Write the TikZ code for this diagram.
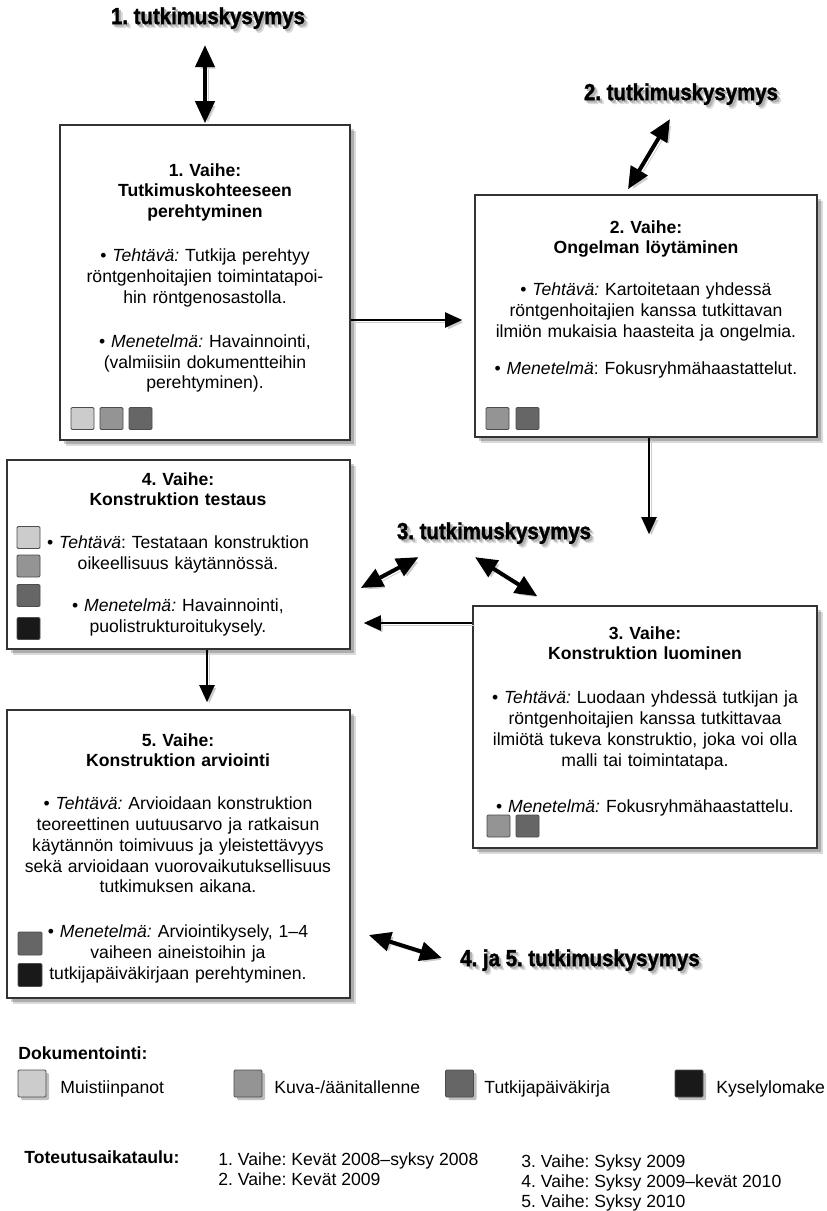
\documentclass[tikz,border=0pt]{standalone}
\usepackage{fontspec}
\setmainfont{Liberation Sans}
\newfontfamily\qfont{Liberation Sans}[FakeStretch=0.88, BoldFeatures={FakeBold=1.5}]
\usetikzlibrary{arrows.meta,shadows}
\frenchspacing

\definecolor{docA}{gray}{0.80}
\definecolor{docB}{gray}{0.58}
\definecolor{docC}{gray}{0.40}
\definecolor{docD}{gray}{0.10}

% question label with a soft offset shadow
\newcommand{\qlabel}[1]{%
  \makebox[0pt][l]{\hspace{1.9pt}\raisebox{-1.9pt}{\color{black!14}#1}}%
  \makebox[0pt][l]{\hspace{1.1pt}\raisebox{-1.1pt}{\color{black!30}#1}}#1}

\begin{document}
\begin{tikzpicture}[x=0.5pt, y=-0.5pt,
    phase/.style={draw=black!80, line width=0.8pt, fill=white, inner sep=0pt,
        drop shadow={shadow xshift=3pt, shadow yshift=-3pt, opacity=0.15, fill=black},
        drop shadow={shadow xshift=1.8pt, shadow yshift=-1.8pt, opacity=0.2, fill=black}},
    phasetext/.style={anchor=north, inner sep=0pt, align=center, text width=166pt,
        font=\fontsize{8.8}{10.4}\selectfont},
    question/.style={inner sep=1pt, font=\qfont\bfseries\fontsize{11.6}{13}\selectfont},
    docsq/.style={draw=black!70, line width=0.4pt, minimum width=11.5pt, minimum height=11pt,
        inner sep=0pt, rounded corners=0.6pt},
    legsq/.style={docsq, minimum width=14pt, minimum height=13.5pt,
        drop shadow={shadow xshift=1.5pt, shadow yshift=-1.5pt, opacity=0.25, fill=black}},
    plain/.style={inner sep=0pt, font=\fontsize{8.8}{10.2}\selectfont},
    flow/.style={-{Triangle[width=7.5pt,length=8.5pt]}, line width=1pt,
        preaction={draw=black!20, transform canvas={shift={(1.2pt,-1.2pt)}}}},
    link/.style={{Triangle[width=9.5pt,length=11pt]}-{Triangle[width=9.5pt,length=11pt]}, line width=2pt,
        preaction={draw=black!20, transform canvas={shift={(1.5pt,-1.5pt)}}}}]

    % Canvas in pixel units, y grows downwards
    \path[use as bounding box, fill=white] (0,0) rectangle (826,1211);

    % Phase boxes
    \node[phase, minimum width=145pt, minimum height=157.5pt] (v1) at (205,282.5) {};
    \node[phase, minimum width=171pt, minimum height=121pt] (v2) at (646,316) {};
    \node[phase, minimum width=172pt, minimum height=121pt] (v3) at (645,727) {};
    \node[phase, minimum width=171.5pt, minimum height=94.5pt] (v4) at (178.5,554.5) {};
    \node[phase, minimum width=171.5pt, minimum height=144pt] (v5) at (178.5,854) {};

    % Box texts
    \node[phasetext] (t1) at (205,163) {\textbf{1. Vaihe:}\\ \textbf{Tutkimuskohteeseen}\\ \textbf{perehtyminen}\\[11.6pt]
        • \textit{Tehtävä:} Tutkija perehtyy\\ röntgenhoitajien toimintatapoi-\\ hin röntgenosastolla.\\[11.6pt]
        • \textit{Menetelmä:} Havainnointi,\\ (valmiisiin dokumentteihin\\ perehtyminen).};
    \node[phasetext] (t2) at (646,220) {\textbf{2. Vaihe:}\\ \textbf{Ongelman löytäminen}\\[10.6pt]
        • \textit{Tehtävä:} Kartoitetaan yhdessä\\ röntgenhoitajien kanssa tutkittavan\\ ilmiön mukaisia haasteita ja ongelmia.\\[8pt]
        • \textit{Menetelmä}: Fokusryhmähaastattelut.};
    \node[phasetext] (t3) at (645,626) {\textbf{3. Vaihe:}\\ \textbf{Konstruktion luominen}\\[11.6pt]
        • \textit{Tehtävä:} Luodaan yhdessä tutkijan ja\\ röntgenhoitajien kanssa tutkittavaa\\ ilmiötä tukeva konstruktio, joka voi olla\\ malli tai toimintatapa.\\[12.5pt]
        • \textit{Menetelmä:} Fokusryhmähaastattelu.};
    \node[phasetext] (t4) at (178,472) {\textbf{4. Vaihe:}\\ \textbf{Konstruktion testaus}\\[11pt]
        • \textit{Tehtävä}: Testataan konstruktion\\ oikeellisuus käytännössä.\\[10.6pt]
        • \textit{Menetelmä:} Havainnointi,\\ puolistrukturoitukysely.};
    \node[phasetext] (t5) at (178,733) {\textbf{5. Vaihe:}\\ \textbf{Konstruktion arviointi}\\[11pt]
        • \textit{Tehtävä:} Arvioidaan konstruktion\\ teoreettinen uutuusarvo ja ratkaisun\\ käytännön toimivuus ja yleistettävyys\\ sekä arvioidaan vuorovaikutuksellisuus\\ tutkimuksen aikana.\\[12pt]
        • \textit{Menetelmä:} Arviointikysely, 1–4\\ vaiheen aineistoihin ja\\ tutkijapäiväkirjaan perehtyminen.};

    % Documentation squares in the boxes
    \foreach \c [count=\i] in {docA,docB,docC}
        \node[docsq, fill=\c] (s1\i) at ({53.5+29*\i},418.5) {};
    \foreach \c [count=\i] in {docB,docC}
        \node[docsq, fill=\c] (s2\i) at ({467.5+30*\i},418.5) {};
    \foreach \c [count=\i] in {docB,docC}
        \node[docsq, fill=\c] (s3\i) at ({469.5+29*\i},826) {};
    \foreach \c/\y [count=\i] in {docA/537.5, docB/566, docC/595.5, docD/628.5}
        \node[docsq, fill=\c] (s4\i) at (28.5,\y) {};
    \foreach \c/\y [count=\i] in {docC/943.5, docD/975}
        \node[docsq, minimum width=12pt, minimum height=11.5pt, fill=\c] (s5\i) at (30,\y) {};

    % Research questions
    \node[question] (q1) at (208,20) {\qlabel{1. tutkimuskysymys}};
    \node[question] (q2) at (681,96) {\qlabel{2. tutkimuskysymys}};
    \node[question] (q3) at (494,535) {\qlabel{3. tutkimuskysymys}};
    \node[question] (q45) at (580,962) {\qlabel{4. ja 5. tutkimuskysymys}};

    % Links between questions and phases
    \draw[link, shorten <=5pt, shorten >=0.5pt] (q1.south -| v1.north) -- (v1.north);
    \draw[link] ([xshift=-5.5pt, yshift=-4pt]q2.south) -- ([xshift=-9pt, yshift=2.5pt]v2.north);
    \draw[link] ([xshift=12pt, yshift=-3.5pt]q3.south west) -- ([xshift=5pt, yshift=-16.75pt]v4.east);
    \draw[link] ([xshift=-9.5pt, yshift=-3.5pt]q3.south) -- ([xshift=32.5pt, yshift=4.5pt]v3.north west);
    \draw[link] ([xshift=9pt, yshift=-40.5pt]v5.east) -- ([xshift=-8pt, yshift=2pt]q45.west);

    % Flow between phases
    \draw[flow, shorten >=6pt] ([yshift=-18.75pt]v1.east) -- ([yshift=-18.75pt]v1.east -| v2.west);
    \draw[flow, shorten >=35.5pt] ([xshift=1.5pt]v2.south) -- ([xshift=1.5pt]v2.south |- v3.north);
    \draw[flow, shorten >=6.5pt] ([yshift=52pt]v3.west) -- ([yshift=52pt]v3.west -| v4.east);
    \draw[flow, shorten >=3.5pt] ([xshift=14.25pt]v4.south) -- ([xshift=14.25pt]v4.south |- v5.north);

    % Legend
    \node[plain, anchor=base west, font=\bfseries\fontsize{8.8}{10.2}\selectfont] (doc) at (18,1059) {Dokumentointi:};
    \node[legsq, fill=docA] (l1) at (32,1083.5) {};
    \node[legsq, fill=docB] (l2) at (248,1083.5) {};
    \node[legsq, fill=docC] (l3) at (459.5,1083.5) {};
    \node[legsq, fill=docD] (l4) at (689,1083.5) {};
    \node[plain, anchor=base west] (lt1) at (60,1093) {Muistiinpanot};
    \node[plain, anchor=base west] (lt2) at (274,1093) {Kuva-/äänitallenne};
    \node[plain, anchor=base west] (lt3) at (484,1093) {Tutkijapäiväkirja};
    \node[plain, anchor=base west] (lt4) at (716,1093) {Kyselylomake};

    % Schedule
    \node[plain, anchor=base west, font=\bfseries\fontsize{8.8}{10.2}\selectfont] (sch) at (24,1163) {Toteutusaikataulu:};
    \node[plain, anchor=north west, align=left] (sc1) at (218,1152) {1. Vaihe: Kevät 2008–syksy 2008\\ 2. Vaihe: Kevät 2009};
    \node[plain, anchor=north west, align=left] (sc2) at (521,1154) {3. Vaihe: Syksy 2009\\ 4. Vaihe: Syksy 2009–kevät 2010\\ 5. Vaihe: Syksy 2010};
\end{tikzpicture}
\end{document}
